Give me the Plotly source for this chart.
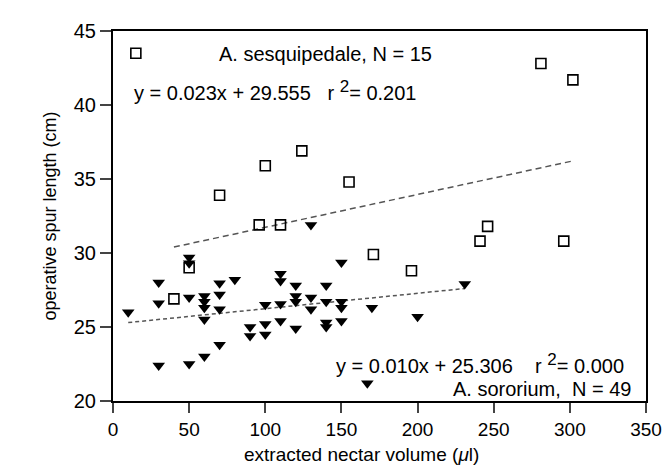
import plotly.graph_objects as go

# A. sesquipedale (open squares)
sesq_x = [15, 70, 100, 124, 155, 281, 302, 96, 110, 50, 40, 171, 246, 241, 296, 196]
sesq_y = [43.5, 33.9, 35.9, 36.9, 34.8, 42.8, 41.7, 31.9, 31.9, 29.0, 26.9, 29.9, 31.8, 30.8, 30.8, 28.8]

# A. sororium (filled down triangles)
soro_x = [10, 30, 30, 30, 50, 50, 50, 50, 60, 60, 60, 60, 60,
          70, 70, 70, 70, 80, 90, 90, 100, 100, 100, 110, 110, 110, 110,
          120, 120, 120, 120, 130, 130, 130, 140, 140, 140, 140,
          150, 150, 150, 150, 170, 167, 200, 231]
soro_y = [26.0, 28.0, 26.6, 22.4, 29.7, 29.3, 27.0, 22.5, 27.1, 26.7, 26.3, 25.5, 23.0,
          27.95, 27.2, 26.2, 23.8, 28.2, 25.0, 24.4, 26.5, 25.2, 24.5, 28.6, 28.1, 26.55, 25.4,
          27.8, 27.1, 26.7, 24.9, 31.9, 27.0, 26.2, 27.8, 26.7, 25.3, 25.0,
          29.35, 26.7, 26.3, 25.4, 26.3, 21.2, 25.7, 27.9]

# regression lines (endpoints)
sesq_fit_x = [40, 301]
sesq_fit_y = [30.4, 36.2]
soro_fit_x = [10, 231]
soro_fit_y = [25.3, 27.6]

x_ticks = [0, 50, 100, 150, 200, 250, 300, 350]
y_ticks = [20, 25, 30, 35, 40, 45]

FONT = "Liberation Sans, Arial, sans-serif"

fig = go.Figure()
fig.add_trace(go.Scatter(x=sesq_fit_x, y=sesq_fit_y, mode="lines",
                         line=dict(color="#555555", width=1.5, dash="6px,4px"),
                         showlegend=False, hoverinfo="skip"))
fig.add_trace(go.Scatter(x=soro_fit_x, y=soro_fit_y, mode="lines",
                         line=dict(color="#555555", width=1.5, dash="4px,3px"),
                         showlegend=False, hoverinfo="skip"))
fig.add_trace(go.Scatter(x=sesq_x, y=sesq_y, mode="markers",
                         marker=dict(symbol="square-open", size=10, color="black",
                                     line=dict(width=1.6, color="black")),
                         showlegend=False))
fig.add_trace(go.Scatter(x=soro_x, y=soro_y, mode="markers",
                         marker=dict(symbol="triangle-down", size=11, color="black",
                                     line=dict(width=0)),
                         showlegend=False))

L, R, T, B = 105, 33, 20, 79
W, H = 671, 472
pw, ph = W - L - R, H - T - B

ann_font = dict(family=FONT, size=20, color="black")
sup = '<sup><span style="font-size:17px">2</span></sup>'
annots = [
    dict(text="A. sesquipedale, N = 15", px=317, py=43, anchor="center"),
    dict(text="y = 0.023x + 29.555   r " + sup + "= 0.201", px=124, py=80, anchor="left"),
    dict(text="y = 0.010x + 25.306    r " + sup + "= 0.000", px=618, py=355, anchor="right"),
    dict(text="A. sororium,  N = 49", px=625, py=381, anchor="right"),
]
for a in annots:
    fig.add_annotation(x=(a["px"] - L) / pw, y=1 - (a["py"] - T) / ph,
                       xref="paper", yref="paper", text=a["text"], showarrow=False,
                       xanchor=a["anchor"], yanchor="middle", font=ann_font)

# x-axis title
fig.add_annotation(x=(353 - L) / pw, y=1 - (447 - T) / ph, xref="paper", yref="paper",
                   text="extracted nectar volume (<i>μ</i>l)", showarrow=False,
                   xanchor="center", yanchor="middle",
                   font=dict(family=FONT, size=19, color="black"))

fig.update_layout(
    width=W, height=H,
    margin=dict(l=L, r=R, t=T, b=B),
    paper_bgcolor="white", plot_bgcolor="white",
    font=dict(family=FONT, size=19, color="black"),
    xaxis=dict(range=[0, 350], tickvals=x_ticks, ticks="outside", ticklen=10, tickwidth=2,
               showline=True, linewidth=2, linecolor="black", mirror=True,
               showgrid=False, zeroline=False, tickfont=dict(size=19)),
    yaxis=dict(range=[20, 45], tickvals=y_ticks, ticks="outside", ticklen=11, tickwidth=2,
               showline=True, linewidth=2, linecolor="black", mirror=True,
               showgrid=False, zeroline=False, tickfont=dict(size=20),
               title=dict(text="operative spur length (cm)", standoff=12,
                          font=dict(size=18))),
)

fig.write_html("out.html")
